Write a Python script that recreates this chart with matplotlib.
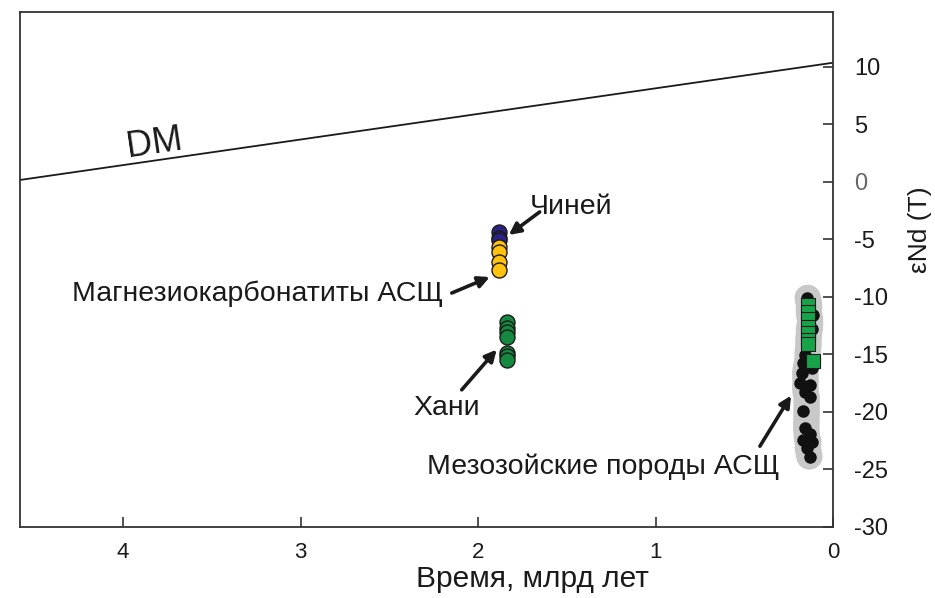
import numpy as np
import pandas as pd
import matplotlib
matplotlib.use('Agg')
import matplotlib.pyplot as plt

plt.rcParams['font.family'] = ['Liberation Sans', 'DejaVu Sans']

# DM line (age, eNd)
dm_age = [0.0, 4.58]
dm_eps = [10.35, 0.15]

# Chiney (blue) and magnesiocarbonatites (yellow)
chiney_age = [1.883, 1.883, 1.883]
chiney_eps = [-4.4, -4.9, -5.1]
mgcarb_age = [1.883, 1.883, 1.883, 1.883]
mgcarb_eps = [-5.7, -6.1, -7.0, -7.7]

# Khani (green circles)
khani_age = [1.84, 1.84, 1.84, 1.84, 1.84, 1.84, 1.84]
khani_eps = [-12.2, -12.7, -13.1, -13.5, -14.9, -15.2, -15.5]

# Mesozoic rocks (black dots and green squares)
meso_age = [0.151, 0.114, 0.120, 0.161, 0.170, 0.123, 0.179, 0.189, 0.132,
            0.161, 0.132, 0.170, 0.161, 0.132, 0.170, 0.123, 0.151, 0.132]
meso_eps = [-10.1, -11.6, -12.8, -15.1, -15.8, -16.2, -16.6, -17.5, -17.7,
            -18.3, -18.7, -19.9, -21.4, -21.9, -22.5, -22.6, -23.2, -23.9]
sq_age = [0.142, 0.142, 0.142, 0.142, 0.142, 0.142, 0.142, 0.114]
sq_eps = [-10.7, -11.3, -11.9, -12.6, -13.2, -13.8, -14.1, -15.6]

xticks = [4, 3, 2, 1, 0]
yticks = [10, 5, 0, -5, -10, -15, -20, -25, -30]

fig = plt.figure(figsize=(9.35, 5.98), dpi=100)
ax = fig.add_axes([0.0214, 0.1187, 0.87, 0.8613])

ax.plot(dm_age, dm_eps, color='#1a1a1a', lw=1.3)

# grey field under the mesozoic points: thick smoothed line through them
field = pd.DataFrame({'age': meso_age + sq_age, 'eps': meso_eps + sq_eps})
field = field.sort_values('eps')
field['age_s'] = field['age'].rolling(5, center=True, min_periods=1).mean()
ax.plot(field['age_s'], field['eps'], color='#c8c8c8', lw=19,
        solid_capstyle='round', solid_joinstyle='round', zorder=2)

ax.plot(meso_age, meso_eps, 'o', ms=8, color='#111111', mec='#111111', zorder=3)
ax.plot(sq_age, sq_eps, 's', ms=10, color='#16a34a', mec='#1a1a1a', mew=0.8, zorder=4)

ax.plot(chiney_age, chiney_eps, 'o', ms=10.8, color='#2b2383', mec='#1a1a1a', mew=1, zorder=3)
ax.plot(mgcarb_age, mgcarb_eps, 'o', ms=10.8, color='#ffc20f', mec='#1a1a1a', mew=1, zorder=3)
ax.plot(khani_age, khani_eps, 'o', ms=10.8, color='#14893f', mec='#1a1a1a', mew=1, zorder=3)

# labels with arrows
arr = dict(arrowstyle='-|>', color='#1a1a1a', lw=2.6, mutation_scale=17,
           shrinkA=0, shrinkB=0)
ax.annotate('', xy=(1.828, -4.63), xytext=(1.654, -2.63), arrowprops=arr)
ax.annotate('', xy=(1.935, -8.29), xytext=(2.149, -9.68), arrowprops=arr)
ax.annotate('', xy=(1.896, -14.6), xytext=(2.093, -18.1), arrowprops=arr)
ax.annotate('', xy=(0.239, -18.6), xytext=(0.414, -23.0), arrowprops=arr)

fs = 20.5
ax.text(1.71, -2.2, 'Чиней', fontsize=fs, ha='left', va='center', color='#1a1a1a')
ax.text(2.2, -9.77, 'Магнезиокарбонатиты АСЩ', fontsize=fs, ha='right', va='center', color='#1a1a1a')
ax.text(2.177, -19.7, 'Хани', fontsize=fs, ha='center', va='center', color='#1a1a1a')
ax.text(0.301, -24.8, 'Мезозойские породы АСЩ', fontsize=fs, ha='right', va='center', color='#1a1a1a')
ax.text(3.822, 3.36, 'DM', fontsize=26, ha='center', va='center', rotation=8.3, color='#1a1a1a')

ax.set_xlim(4.58, 0)
ax.set_ylim(-30.03, 14.76)
ax.set_xticks(xticks)
ax.set_xticklabels([str(v) for v in xticks])
ax.set_yticks(yticks)
ax.set_yticklabels([str(v) for v in yticks])

ax.yaxis.tick_right()
ax.tick_params(axis='both', direction='in', length=7, width=1.2, color='#333333',
               labelsize=17, labelcolor='#1a1a1a')
ax.tick_params(axis='x', pad=11, labelsize=16)
ax.tick_params(axis='y', pad=15)
for lab in ax.get_yticklabels():
    if lab.get_text() == '0':
        lab.set_color('#666666')

for sp in ax.spines.values():
    sp.set_color('#333333')
    sp.set_linewidth(1.3)

ax.set_xlabel('Время, млрд лет', fontsize=21.5, color='#1a1a1a')
ax.xaxis.set_label_coords(0.63, -0.073)
ax.yaxis.set_label_position('right')
ax.set_ylabel('εNd (T)', fontsize=19, rotation=90, color='#1a1a1a')
ax.yaxis.set_label_coords(1.092, 0.577)

fig.savefig('out.png', dpi=100)
